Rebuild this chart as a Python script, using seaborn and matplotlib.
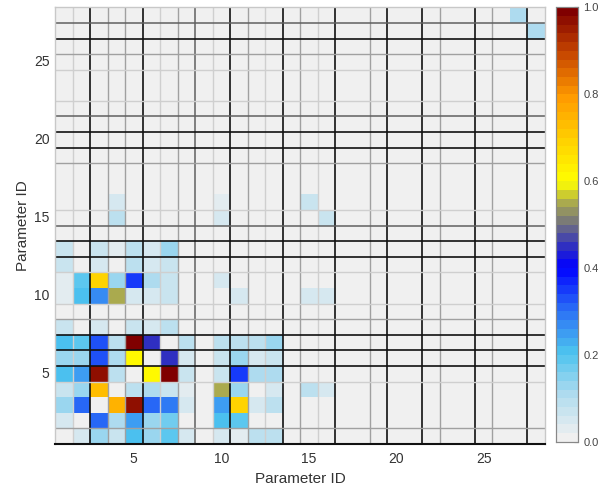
import numpy as np
import pandas as pd
import matplotlib
matplotlib.use("Agg")
import matplotlib.pyplot as plt
import seaborn as sns
from matplotlib.colors import LinearSegmentedColormap

sns.set_theme(style="white")
plt.rcParams['font.family'] = ['Liberation Sans', 'DejaVu Sans']

n_params = 28
param_ids = list(range(1, n_params + 1))

# values for rows 1..16 (bottom to top), columns 1..16
r01 = [0.00, 0.04, 0.13, 0.07, 0.21, 0.13, 0.19, 0.05, 0.00, 0.04, 0.02, 0.09, 0.08, 0.00, 0.00, 0.00]
r02 = [0.04, 0.00, 0.30, 0.11, 0.24, 0.13, 0.17, 0.00, 0.00, 0.20, 0.18, 0.00, 0.00, 0.00, 0.00, 0.00]
r03 = [0.13, 0.30, 0.00, 0.75, 0.96, 0.30, 0.29, 0.04, 0.00, 0.24, 0.68, 0.05, 0.08, 0.00, 0.00, 0.00]
r04 = [0.06, 0.12, 0.73, 0.00, 0.09, 0.11, 0.07, 0.02, 0.00, 0.54, 0.12, 0.00, 0.04, 0.00, 0.09, 0.05]
r05 = [0.21, 0.24, 0.96, 0.09, 0.00, 0.60, 0.98, 0.06, 0.00, 0.06, 0.35, 0.11, 0.11, 0.00, 0.00, 0.00]
r06 = [0.13, 0.13, 0.33, 0.10, 0.60, 0.00, 0.44, 0.05, 0.00, 0.07, 0.12, 0.05, 0.07, 0.00, 0.00, 0.00]
r07 = [0.20, 0.18, 0.32, 0.08, 1.00, 0.44, 0.00, 0.09, 0.00, 0.08, 0.08, 0.08, 0.12, 0.00, 0.00, 0.00]
r08 = [0.07, 0.01, 0.05, 0.01, 0.07, 0.04, 0.08, 0.00, 0.00, 0.00, 0.00, 0.00, 0.00, 0.00, 0.00, 0.00]
r09 = [0.00, 0.00, 0.00, 0.00, 0.00, 0.00, 0.00, 0.00, 0.00, 0.00, 0.00, 0.00, 0.00, 0.00, 0.00, 0.00]
r10 = [0.03, 0.20, 0.26, 0.54, 0.05, 0.05, 0.07, 0.00, 0.00, 0.00, 0.05, 0.00, 0.00, 0.00, 0.04, 0.04]
r11 = [0.03, 0.18, 0.68, 0.12, 0.35, 0.11, 0.07, 0.00, 0.00, 0.05, 0.00, 0.00, 0.00, 0.00, 0.00, 0.00]
r12 = [0.07, 0.00, 0.05, 0.00, 0.09, 0.04, 0.07, 0.00, 0.00, 0.00, 0.00, 0.00, 0.00, 0.00, 0.00, 0.00]
r13 = [0.07, 0.00, 0.07, 0.03, 0.09, 0.05, 0.12, 0.00, 0.00, 0.00, 0.00, 0.00, 0.00, 0.00, 0.00, 0.00]
r14 = [0.00, 0.00, 0.00, 0.00, 0.00, 0.00, 0.00, 0.00, 0.00, 0.00, 0.00, 0.00, 0.00, 0.00, 0.00, 0.00]
r15 = [0.00, 0.00, 0.00, 0.09, 0.00, 0.00, 0.00, 0.00, 0.00, 0.04, 0.00, 0.00, 0.00, 0.00, 0.00, 0.07]
r16 = [0.00, 0.00, 0.00, 0.04, 0.00, 0.00, 0.00, 0.00, 0.00, 0.03, 0.00, 0.00, 0.00, 0.00, 0.06, 0.00]
block_rows = [r01, r02, r03, r04, r05, r06, r07, r08, r09, r10, r11, r12, r13, r14, r15, r16]

# isolated cells in the upper right: (row, column, value)
extra_rows = [27, 28]
extra_cols = [28, 27]
extra_vals = [0.10, 0.10]

# grid line levels between cells (0 none, 1 light, 2 gray, 3 dark gray, 4 black)
v_line_levels = [1, 4, 2, 2, 4, 1, 2, 3, 1, 4, 2, 1, 4, 2, 1, 4, 0, 2, 4, 0, 4, 2, 0, 4, 2, 0, 4]
h_line_levels = [2, 0, 0, 1, 4, 4, 4, 2, 1, 0, 1, 4, 4, 3, 1, 0, 0, 2, 4, 4, 3, 1, 0, 1, 2, 4, 3]

mat = np.zeros((n_params, n_params))
for i, row in enumerate(block_rows):
    mat[i, :len(row)] = row
for r, c, v in zip(extra_rows, extra_cols, extra_vals):
    mat[r - 1, c - 1] = v
df = pd.DataFrame(mat, index=param_ids, columns=param_ids)

cmap = LinearSegmentedColormap.from_list(
    "cc",
    [(0.0, "#f0f0f0"), (0.1, "#b0dcef"), (0.2, "#4cc3ef"), (0.3, "#2a6ef5"),
     (0.4, "#0000ff"), (0.45, "#3030c0"), (0.5, "#707080"), (0.55, "#a8a850"),
     (0.6, "#ffff00"), (0.7, "#ffd000"), (0.8, "#ff9a00"), (0.9, "#c84800"),
     (1.0, "#800000")], N=50)

fig = plt.figure(figsize=(6.12, 4.92), dpi=100)
ax = fig.add_axes([0.0899, 0.0976, 0.8006, 0.8875])
cax = fig.add_axes([0.908, 0.102, 0.036, 0.883])

sns.heatmap(df, ax=ax, cmap=cmap, vmin=0, vmax=1, cbar_ax=cax, linewidths=0)
ax.invert_yaxis()

styles = {1: ("#cfcfcf", 1.0), 2: ("#a0a0a0", 1.0), 3: ("#606060", 1.1), 4: ("#111111", 1.2)}
for j, lev in enumerate(v_line_levels, start=1):
    if lev:
        col, lw = styles[lev]
        ax.axvline(j, color=col, lw=lw, zorder=3)
for m, lev in enumerate(h_line_levels, start=1):
    if lev:
        col, lw = styles[lev]
        ax.axhline(m, color=col, lw=lw, zorder=3)

ticks = [5, 10, 15, 20, 25]
ax.set_xticks([t - 0.5 for t in ticks])
ax.set_xticklabels([str(t) for t in ticks], rotation=0)
ax.set_yticks([t - 0.5 for t in ticks])
ax.set_yticklabels([str(t) for t in ticks], rotation=0)
ax.tick_params(axis="both", length=0, labelsize=10, colors="#333333")
ax.tick_params(axis="x", pad=6)
ax.tick_params(axis="y", pad=4)
ax.set_xlabel("Parameter ID", fontsize=11, color="#333333", labelpad=4)
ax.set_ylabel("Parameter ID", fontsize=11, color="#333333", labelpad=3)

for s in ["top", "right", "left", "bottom"]:
    ax.spines[s].set_visible(True)
    ax.spines[s].set_color("#c8c8c8")
    ax.spines[s].set_linewidth(1.0)
ax.spines["bottom"].set_color("#111111")
ax.spines["bottom"].set_linewidth(1.5)
for s in ax.spines.values():
    s.set_zorder(4)

cax.set_yticks([0, 0.2, 0.4, 0.6, 0.8, 1.0])
cax.set_yticklabels(["0.0", "0.2", "0.4", "0.6", "0.8", "1.0"])
cax.tick_params(axis="y", direction="in", length=3, width=0.8, color="#555555",
                labelsize=8, labelcolor="#444444", pad=4, right=True)
for s in cax.spines.values():
    s.set_visible(True)
    s.set_color("#888888")
    s.set_linewidth(0.8)

fig.savefig("out.png", dpi=100)
